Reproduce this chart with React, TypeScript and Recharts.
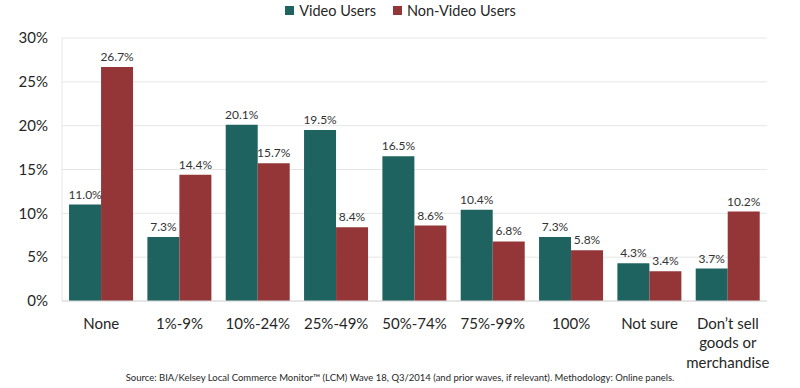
import React from "react";
import { BarChart, Bar, XAxis, YAxis, CartesianGrid, Legend, LabelList, Text } from "recharts";

const categories = ["None", "1%-9%", "10%-24%", "25%-49%", "50%-74%", "75%-99%", "100%", "Not sure", "Don’t sell goods or merchandise"];
const videoUsers = [11.0, 7.3, 20.1, 19.5, 16.5, 10.4, 7.3, 4.3, 3.7];
const nonVideoUsers = [26.7, 14.4, 15.7, 8.4, 8.6, 6.8, 5.8, 3.4, 10.2];
const yTicks = [0, 5, 10, 15, 20, 25, 30];
const seriesNames = ["Video Users", "Non-Video Users"];
const sourceNote = "Source: BIA/Kelsey Local Commerce Monitor™ (LCM) Wave 18, Q3/2014 (and prior waves, if relevant). Methodology: Online panels.";

const data = categories.map((c, i) => ({ name: c, video: videoUsers[i], nonVideo: nonVideoUsers[i] }));

const FONT = "Lato, 'Open Sans', sans-serif";
const TEAL = "#1F6361";
const RED = "#943638";
const seriesColors = [TEAL, RED];

const XTick = (props: any) => {
  const { x, y, payload } = props;
  return (
    <Text
      x={x}
      y={y}
      width={80}
      textAnchor="middle"
      verticalAnchor="start"
      lineHeight={19.5}
      fontSize={15}
      fontFamily={FONT}
      fill="#262626"
    >
      {payload.value}
    </Text>
  );
};

const LegendContent = () => (
  <div style={{ display: "flex", justifyContent: "center", fontFamily: FONT, fontSize: 14.5, color: "#262626", paddingLeft: 34 }}>
    {seriesNames.map((n, i) => (
      <div key={n} style={{ display: "flex", alignItems: "center", marginRight: i === 0 ? 17 : 0 }}>
        <span style={{ display: "inline-block", width: 9, height: 9, background: seriesColors[i], marginRight: 5 }} />
        <span>{n}</span>
      </div>
    ))}
  </div>
);

const fmt = (v: any) => `${Number(v).toFixed(1)}%`;

export default function App() {
  return (
    <div style={{ position: "absolute", left: 0, top: 0, width: 800, height: 388, background: "#fff" }}>
      <BarChart
        width={800}
        height={388}
        data={data}
        margin={{ top: 8, right: 33, left: 0, bottom: 17 }}
        barCategoryGap="9%"
        barGap={0}
      >
        <CartesianGrid vertical={false} stroke="#E6E6E6" />
        <Legend verticalAlign="top" height={30} content={<LegendContent />} wrapperStyle={{ top: 2 }} />
        <XAxis
          dataKey="name"
          interval={0}
          height={70}
          tickLine={false}
          tickMargin={11}
          axisLine={{ stroke: "#D9D9D9" }}
          tick={<XTick />}
        />
        <YAxis
          width={62}
          domain={[0, 30]}
          ticks={yTicks}
          tickFormatter={(v: any) => `${v}%`}
          tickLine={false}
          tickSize={0}
          tickMargin={14}
          axisLine={{ stroke: "#E6E6E6" }}
          tick={{ fontSize: 15, fontFamily: FONT, fill: "#262626" }}
        />
        <Bar dataKey="video" name={seriesNames[0]} fill={TEAL} isAnimationActive={false}>
          <LabelList dataKey="video" position="top" offset={6} formatter={fmt} style={{ fontSize: 12, fontFamily: FONT, fill: "#333" }} />
        </Bar>
        <Bar dataKey="nonVideo" name={seriesNames[1]} fill={RED} isAnimationActive={false}>
          <LabelList dataKey="nonVideo" position="top" offset={6} formatter={fmt} style={{ fontSize: 12, fontFamily: FONT, fill: "#333" }} />
        </Bar>
      </BarChart>
      <div
        style={{
          position: "absolute",
          left: 0,
          width: 800,
          top: 372,
          textAlign: "center",
          fontFamily: FONT,
          fontSize: 9.5,
          color: "#262626",
          lineHeight: "12px",
        }}
      >
        {sourceNote}
      </div>
    </div>
  );
}
